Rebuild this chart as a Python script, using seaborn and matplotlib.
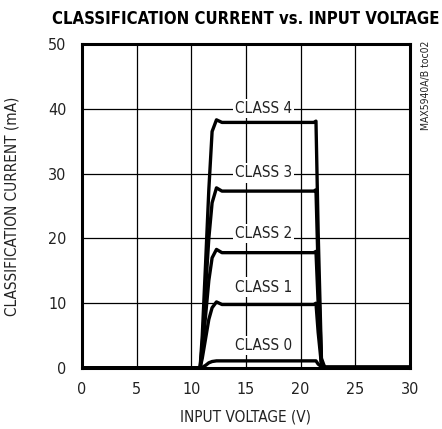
import matplotlib
matplotlib.use("Agg")
import matplotlib.pyplot as plt
import seaborn as sns
import pandas as pd

# data
voltage = [0, 10.8, 11.0, 11.3, 11.6, 11.9, 12.3, 12.8, 21.2, 21.4, 21.6, 21.9, 22.2, 30]
class_0 = [0, 0, 0.1, 0.4, 0.8, 1.0, 1.1, 1.1, 1.1, 1.1, 0.6, 0.2, 0.1, 0.1]
class_1 = [0, 0, 1.5, 4.5, 7.5, 9.3, 10.2, 9.8, 9.8, 10.0, 5.5, 0.5, 0.1, 0.1]
class_2 = [0, 0, 2.5, 8.0, 13.5, 17.0, 18.3, 17.8, 17.8, 18.0, 10.0, 0.7, 0.1, 0.1]
class_3 = [0, 0, 3.5, 12.0, 20.0, 25.5, 27.8, 27.3, 27.3, 27.5, 15.0, 1.0, 0.1, 0.1]
class_4 = [0, 0, 5.0, 16.0, 27.5, 36.5, 38.3, 37.9, 37.9, 38.1, 21.0, 1.5, 0.1, 0.1]
classes = ["CLASS 0", "CLASS 1", "CLASS 2", "CLASS 3", "CLASS 4"]
label_x = [16.6, 16.6, 16.6, 16.6, 16.6]
label_y = [3.5, 12.5, 20.8, 30.1, 40.1]

rows = []
for name, cur in zip(classes, [class_0, class_1, class_2, class_3, class_4]):
    for v, c in zip(voltage, cur):
        rows.append({"v": v, "i": c, "cls": name})
df = pd.DataFrame(rows)

sns.set_style("white")
plt.rcParams["font.family"] = ["DejaVu Sans"]
plt.rcParams["font.stretch"] = "condensed"

fig = plt.figure(figsize=(4.42, 4.29), dpi=100)
ax = fig.add_axes([0.1855, 0.1422, 0.7421, 0.7552])

sns.lineplot(data=df, x="v", y="i", hue="cls", palette=["black"] * 5,
             linewidth=2.4, legend=False, ax=ax, sort=False, zorder=3)

ax.set_xlim(0, 30)
ax.set_ylim(0, 50)
ax.set_xticks(range(0, 31, 5))
ax.set_yticks(range(0, 51, 10))
ax.grid(True, color="black", linewidth=0.9)
ax.set_axisbelow(True)
for s in ax.spines.values():
    s.set_visible(True)
    s.set_color("black")
    s.set_linewidth(2.2)
ax.tick_params(axis="both", length=0, labelsize=11.5, colors="#222222")
ax.tick_params(axis="y", pad=11)
ax.tick_params(axis="x", pad=10)

for name, x, y in zip(classes, label_x, label_y):
    ax.text(x, y, name, ha="center", va="center", fontsize=11, color="#222222",
            bbox=dict(facecolor="white", edgecolor="none", pad=1.5), zorder=4)

ax.set_xlabel("INPUT VOLTAGE (V)", fontsize=11, color="#222222", labelpad=9)
ax.set_ylabel("CLASSIFICATION CURRENT (mA)", fontsize=11, color="#222222", labelpad=21)

fig.text(0.555, 0.955, "CLASSIFICATION CURRENT vs. INPUT VOLTAGE", ha="center", va="center",
         fontsize=12, fontweight="bold", color="black")
fig.text(0.963, 0.80, "MAX5940A/B toc02", rotation=90, ha="center", va="center",
         fontsize=7.5, color="#222222")

fig.savefig("out.png", dpi=100)
